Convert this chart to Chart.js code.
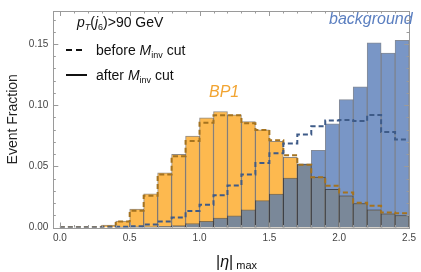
<!DOCTYPE html>
<html>
<head>
<meta charset="utf-8">
<script src="https://cdn.jsdelivr.net/npm/chart.js@4"></script>
<style>
  html, body { margin: 0; padding: 0; background: #fff; }
  #wrap { width: 421px; height: 272px; position: relative; }
</style>
</head>
<body>
<div id="wrap"><canvas id="chart" width="421" height="272"></canvas></div>
<script>
const binLefts = [0.0, 0.1, 0.2, 0.3, 0.4, 0.5, 0.6, 0.7, 0.8, 0.9, 1.0, 1.1, 1.2, 1.3, 1.4, 1.5, 1.6, 1.7, 1.8, 1.9, 2.0, 2.1, 2.2, 2.3, 2.4];
const binWidth = 0.1;

const bp1After  = [0, 0, 0, 0.002, 0.0053, 0.015, 0.0276, 0.0446, 0.0598, 0.0747, 0.0896, 0.0948, 0.0922, 0.0865, 0.0799, 0.0705, 0.0574, 0.0515, 0.0412, 0.0312, 0.0258, 0.0195, 0.0145, 0.0111, 0.0098];
const bp1Before = [0.0003, 0.0003, 0.0003, 0.0008, 0.005, 0.0137, 0.026, 0.0433, 0.0582, 0.0708, 0.0857, 0.0917, 0.0917, 0.0852, 0.0797, 0.0713, 0.059, 0.0512, 0.041, 0.0341, 0.0286, 0.0203, 0.0177, 0.0122, 0.0116];
const bgAfter   = [0, 0, 0, 0, 0.0003, 0.0005, 0.0006, 0.0009, 0.0015, 0.0033, 0.0051, 0.0077, 0.0095, 0.0145, 0.022, 0.0274, 0.0405, 0.052, 0.063, 0.0847, 0.1045, 0.115, 0.151, 0.1425, 0.153];
const bgBefore  = [0, 0, 0, 0.0003, 0.0006, 0.001, 0.0025, 0.005, 0.0082, 0.0135, 0.0187, 0.0263, 0.0344, 0.0433, 0.0527, 0.0608, 0.0687, 0.076, 0.0828, 0.0875, 0.0878, 0.087, 0.092, 0.078, 0.072];

const xTickLabels = ["0.0", "0.5", "1.0", "1.5", "2.0", "2.5"];
const yTickLabels = ["0.00", "0.05", "0.10", "0.15"];

const FONT = "'Liberation Sans', Arial, sans-serif";

const bars = vals => vals.map((v, i) => ({ x: binLefts[i] + binWidth / 2, y: v }));
const steps = vals => {
  const pts = vals.map((v, i) => ({ x: binLefts[i], y: v }));
  pts.push({ x: binLefts[binLefts.length - 1] + binWidth, y: vals[vals.length - 1] });
  return pts;
};
const overlap = bgAfter.map((v, i) => Math.min(v, bp1After[i]));

const frameAndText = {
  id: 'frameAndText',
  afterDatasetsDraw(chart) {
    const { ctx, chartArea: a, scales } = chart;
    ctx.save();
    ctx.strokeStyle = '#9a9a9a';
    ctx.lineWidth = 1;
    ctx.beginPath();
    scales.x.ticks.forEach(t => {
      const px = Math.round(scales.x.getPixelForValue(t.value)) + 0.5;
      const len = t.label ? 5 : 2.5;
      ctx.moveTo(px, a.bottom); ctx.lineTo(px, a.bottom - len);
      ctx.moveTo(px, a.top); ctx.lineTo(px, a.top + len);
    });
    scales.y.ticks.forEach(t => {
      const py = Math.round(scales.y.getPixelForValue(t.value)) + 0.5;
      const len = t.label ? 5 : 2.5;
      ctx.moveTo(a.left, py); ctx.lineTo(a.left + len, py);
      ctx.moveTo(a.right, py); ctx.lineTo(a.right - len, py);
    });
    ctx.stroke();
    ctx.strokeRect(Math.round(a.left) + 0.5, Math.round(a.top) + 0.5, Math.round(a.right - a.left), Math.round(a.bottom - a.top));
    ctx.restore();
  },
  afterDraw(chart) {
    const { ctx } = chart;
    ctx.save();
    ctx.fillStyle = '#111';
    ctx.textBaseline = 'alphabetic';
    const run = (parts, x, y) => {
      parts.forEach(p => {
        ctx.font = p[1];
        ctx.fillText(p[0], x, y + (p[2] || 0));
        x += ctx.measureText(p[0]).width;
      });
    };
    run([["p", "italic 14px " + FONT], ["T", "italic 9px " + FONT, 3], ["(", "14px " + FONT], ["j", "italic 14px " + FONT], ["6", "9px " + FONT, 3], [")>90 GeV", "14px " + FONT]], 77, 26.5);
    run([["before ", "14px " + FONT], ["M", "italic 14px " + FONT], ["inv", "9px " + FONT, 3], [" cut", "14px " + FONT]], 96, 55);
    run([["after ", "14px " + FONT], ["M", "italic 14px " + FONT], ["inv", "9px " + FONT, 3], [" cut", "14px " + FONT]], 96, 80);

    ctx.strokeStyle = '#111';
    ctx.lineWidth = 2;
    ctx.setLineDash([6, 4]);
    ctx.beginPath(); ctx.moveTo(66, 50); ctx.lineTo(83, 50); ctx.stroke();
    ctx.setLineDash([]);
    ctx.beginPath(); ctx.moveTo(66, 75); ctx.lineTo(87, 75); ctx.stroke();

    ctx.font = "italic 16px " + FONT;
    ctx.fillStyle = '#f2a431';
    ctx.fillText("BP1", 209, 96.5);
    ctx.fillStyle = '#5b7fc0';
    ctx.fillText("background", 329, 24);

    ctx.fillStyle = '#111';
    run([["|", "16px " + FONT], ["η", "italic 16px " + FONT], ["|", "16px " + FONT], [" max", "11px " + FONT, 2]], 216, 267);
    ctx.restore();
  }
};

new Chart(document.getElementById('chart'), {
  type: 'bar',
  data: {
    datasets: [
      { type: 'line', label: 'background before', data: steps(bgBefore), stepped: 'before', borderColor: '#3e5b88', borderWidth: 2, borderDash: [5, 3], pointRadius: 0, fill: false },
      { type: 'line', label: 'BP1 before', data: steps(bp1Before), stepped: 'before', borderColor: '#a5731f', borderWidth: 2, borderDash: [5, 3], pointRadius: 0, fill: false },
      { label: 'overlap', data: bars(overlap), backgroundColor: '#7a8899', borderColor: 'rgba(55,60,70,0.6)', borderWidth: 1 },
      { label: 'BP1', data: bars(bp1After), backgroundColor: '#fdb94f', borderColor: 'rgba(70,60,50,0.6)', borderWidth: 1 },
      { label: 'background', data: bars(bgAfter), backgroundColor: '#7996c6', borderColor: 'rgba(50,60,80,0.6)', borderWidth: 1 }
    ]
  },
  options: {
    responsive: false,
    animation: false,
    events: [],
    layout: { padding: { top: 2, right: 6.5, left: 0, bottom: 0 } },
    datasets: { bar: { grouped: false, barPercentage: 1, categoryPercentage: 1 } },
    plugins: { legend: { display: false }, tooltip: { enabled: false } },
    scales: {
      x: {
        type: 'linear', offset: false, min: -0.047, max: 2.5,
        grid: { display: false, drawTicks: false },
        border: { display: false },
        ticks: {
          stepSize: 0.1, includeBounds: false, autoSkip: false, maxRotation: 0, padding: 5,
          color: '#444', font: { size: 10, family: FONT },
          callback: v => xTickLabels.includes(v.toFixed(1)) && Math.abs(v * 2 - Math.round(v * 2)) < 1e-6 ? v.toFixed(1) : ''
        },
        afterFit: s => { s.height = 44.5; }
      },
      y: {
        min: 0, max: 0.177,
        grid: { display: false, drawTicks: false },
        border: { display: false },
        ticks: {
          stepSize: 0.01, includeBounds: false, autoSkip: false, padding: 5,
          color: '#444', font: { size: 10, family: FONT },
          callback: v => yTickLabels.includes(v.toFixed(2)) && Math.abs(v * 20 - Math.round(v * 20)) < 1e-6 ? v.toFixed(2) : ''
        },
        title: { display: true, text: 'Event Fraction', color: '#222', font: { size: 14, family: FONT }, padding: { top: 4.6, bottom: 0 } },
        afterFit: s => { s.width = 53.3; }
      }
    }
  },
  plugins: [frameAndText]
});
</script>
</body>
</html>
